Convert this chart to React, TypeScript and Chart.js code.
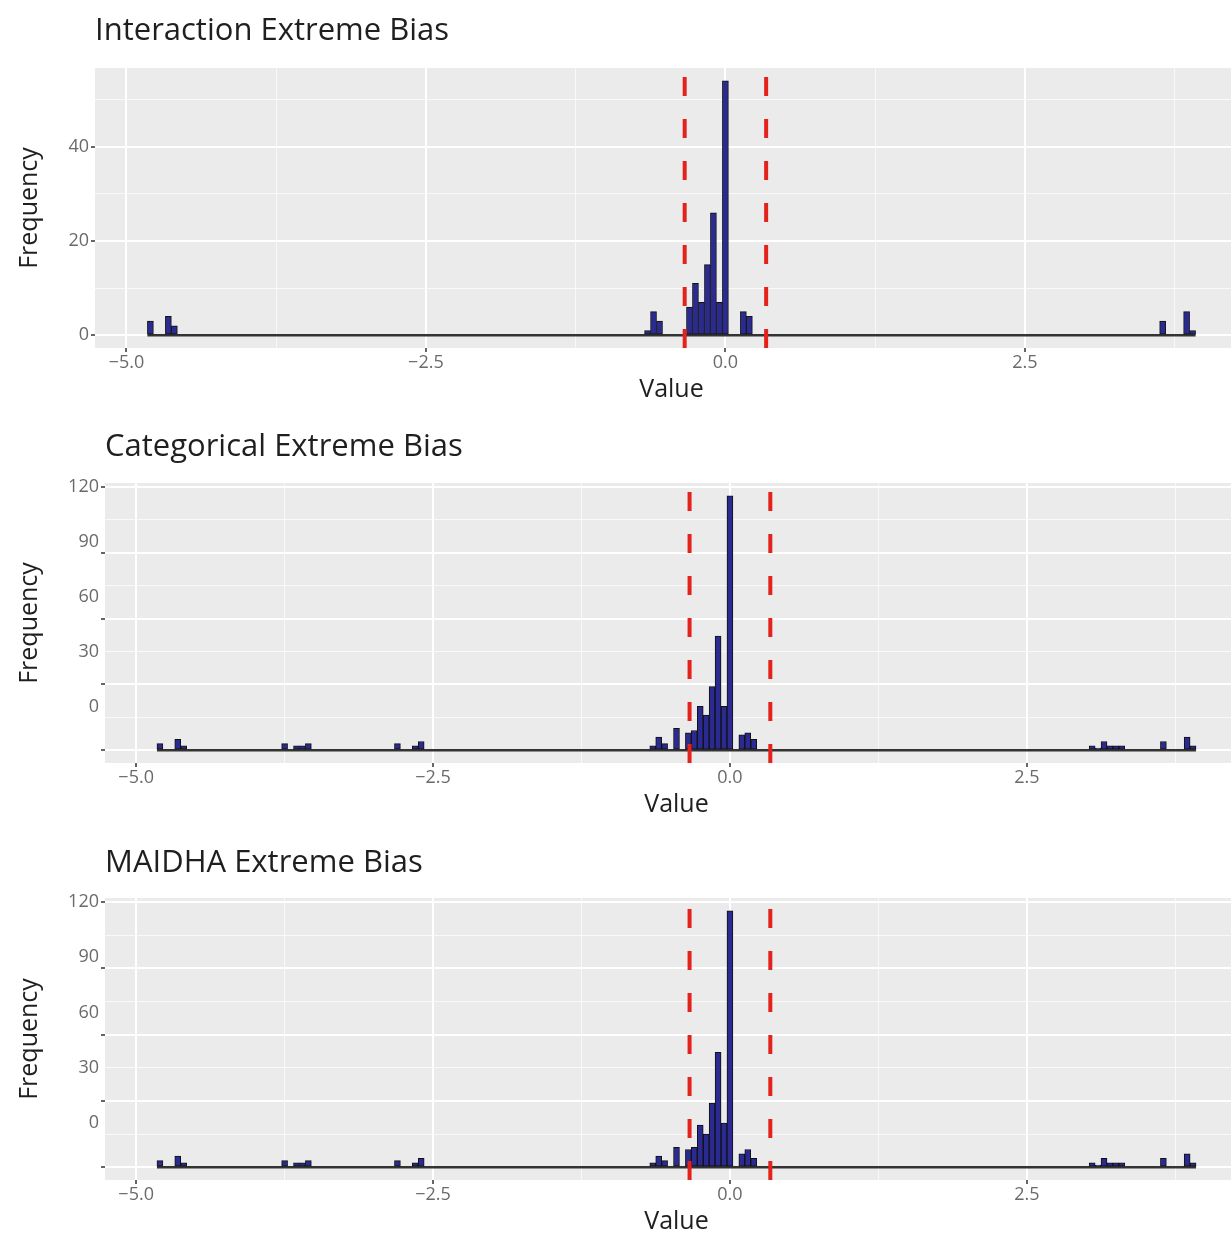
import React, { useEffect, useRef } from "react";
import { Chart, registerables } from "chart.js";

Chart.register(...registerables);
Chart.defaults.font.family = '"Open Sans", "DejaVu Sans", sans-serif';

// ---------------- data ----------------
const BIN_WIDTH = 0.05;
const THRESHOLD = 0.34;

const interactionBins = [-4.8, -4.65, -4.6, -0.65, -0.6, -0.55, -0.3, -0.25, -0.2, -0.15, -0.1, -0.05, 0, 0.15, 0.2, 3.65, 3.85, 3.9];
const interactionCounts = [3, 4, 2, 1, 5, 3, 6, 11, 7, 15, 26, 7, 54, 5, 4, 3, 5, 1];

const categoricalBins = [-4.8, -4.65, -4.6, -3.75, -3.65, -3.6, -3.55, -2.8, -2.65, -2.6, -0.65, -0.6, -0.55, -0.45, -0.35, -0.3, -0.25, -0.2, -0.15, -0.1, -0.05, 0, 0.1, 0.15, 0.2, 3.05, 3.1, 3.15, 3.2, 3.25, 3.3, 3.65, 3.85, 3.9];
const categoricalCounts = [3, 5, 2, 3, 2, 2, 3, 3, 2, 4, 2, 6, 3, 10, 8, 9, 20, 16, 29, 52, 20, 116, 7, 8, 5, 2, 1, 4, 2, 2, 2, 4, 6, 2];

const maidhaBins = [-4.8, -4.65, -4.6, -3.75, -3.65, -3.6, -3.55, -2.8, -2.65, -2.6, -0.65, -0.6, -0.55, -0.45, -0.35, -0.3, -0.25, -0.2, -0.15, -0.1, -0.05, 0, 0.1, 0.15, 0.2, 3.05, 3.1, 3.15, 3.2, 3.25, 3.3, 3.65, 3.85, 3.9];
const maidhaCounts = [3, 5, 2, 3, 2, 2, 3, 3, 2, 4, 2, 5, 3, 9, 8, 9, 19, 15, 29, 52, 20, 116, 6, 8, 4, 2, 1, 4, 2, 2, 2, 4, 6, 2];

const xMajorTicks = [-5, -2.5, 0, 2.5];
const xTickLabels = ["\u22125.0", "\u22122.5", "0.0", "2.5"];
const xMinorTicks = [-3.75, -1.25, 1.25, 3.75];

const interactionYMajor = [0, 20, 40];
const interactionYMinor = [10, 30, 50];
const interactionYLabelAt = [0, 20, 40];
const interactionYLabels = ["0", "20", "40"];

const countYMajor = [0, 30, 60, 90, 120];
const countYMinor = [15, 45, 75, 105];
const countYLabelAt = [120, 95, 70, 45, 20];
const countYLabels = ["120", "90", "60", "30", "0"];

// ---------------- layout ----------------
const CANVAS_W = 1248;
const CANVAS_H = 416;
const X_AXIS_H = 30;
const Y_TICK_W = 5;

type Spec = {
  title: string;
  bins: number[];
  counts: number[];
  yMajor: number[];
  yMinor: number[];
  yLabelAt: number[];
  yLabels: string[];
  top: number;
  plotLeft: number;
  plotTop: number;
  plotBottom: number;
};

const panels: Spec[] = [
  {
    title: "Interaction Extreme Bias",
    bins: interactionBins,
    counts: interactionCounts,
    yMajor: interactionYMajor,
    yMinor: interactionYMinor,
    yLabelAt: interactionYLabelAt,
    yLabels: interactionYLabels,
    top: 0,
    plotLeft: 95,
    plotTop: 68,
    plotBottom: 348,
  },
  {
    title: "Categorical Extreme Bias",
    bins: categoricalBins,
    counts: categoricalCounts,
    yMajor: countYMajor,
    yMinor: countYMinor,
    yLabelAt: countYLabelAt,
    yLabels: countYLabels,
    top: 416,
    plotLeft: 105,
    plotTop: 67,
    plotBottom: 347,
  },
  {
    title: "MAIDHA Extreme Bias",
    bins: maidhaBins,
    counts: maidhaCounts,
    yMajor: countYMajor,
    yMinor: countYMinor,
    yLabelAt: countYLabelAt,
    yLabels: countYLabels,
    top: 832,
    plotLeft: 105,
    plotTop: 66,
    plotBottom: 348,
  },
];

const has = (arr: number[], v: number | undefined) =>
  v !== undefined && arr.some((a) => Math.abs(a - v) < 1e-9);

function Panel({ spec }: { spec: Spec }) {
  const ref = useRef<HTMLCanvasElement | null>(null);

  useEffect(() => {
    const canvas = ref.current;
    if (!canvas) return;

    const maxCount = Math.max(...spec.counts);
    const yMin = -0.05 * maxCount;
    const yMax = 1.05 * maxCount;
    const dataLo = spec.bins[0] - BIN_WIDTH / 2;
    const dataHi = spec.bins[spec.bins.length - 1] + BIN_WIDTH / 2;
    const span = dataHi - dataLo;
    const xMin = dataLo - 0.05 * span;
    const xMax = dataHi + 0.05 * span;

    const xGrid = [...xMajorTicks, ...xMinorTicks].sort((a, b) => a - b);
    const yGrid = [...spec.yMajor, ...spec.yMinor].sort((a, b) => a - b);

    const bgPlugin = {
      id: "panelBg",
      beforeDraw(chart: any) {
        const { ctx, chartArea } = chart;
        ctx.save();
        ctx.fillStyle = "#ebebeb";
        ctx.fillRect(chartArea.left, chartArea.top, chartArea.right - chartArea.left, chartArea.bottom - chartArea.top);
        ctx.restore();
      },
    };

    const textPlugin = {
      id: "panelText",
      afterDraw(chart: any) {
        const { ctx, chartArea } = chart;
        ctx.save();
        ctx.fillStyle = "#1f1f1f";
        ctx.font = '31px "Open Sans", sans-serif';
        ctx.textAlign = "left";
        ctx.textBaseline = "alphabetic";
        ctx.fillText(spec.title, chartArea.left, 40);

        ctx.font = '25px "Open Sans", sans-serif';
        ctx.textAlign = "center";
        ctx.textBaseline = "middle";
        ctx.fillText("Value", (chartArea.left + chartArea.right) / 2, chartArea.bottom + 42);

        ctx.translate(30, (chartArea.top + chartArea.bottom) / 2);
        ctx.rotate(-Math.PI / 2);
        ctx.fillText("Frequency", 0, 0);
        ctx.restore();
      },
    };

    const vline = (x: number) => ({
      type: "line" as const,
      data: [
        { x, y: yMin },
        { x, y: yMax },
      ],
      xAxisID: "x",
      yAxisID: "y",
      borderColor: "#e3221c",
      borderWidth: 4,
      borderDash: [19, 23],
      borderCapStyle: "butt",
      pointRadius: 0,
      fill: false,
      order: 0,
    });

    const chart = new Chart(canvas, {
      type: "bar",
      data: {
        datasets: [
          vline(-THRESHOLD),
          vline(THRESHOLD),
          {
            type: "bar",
            data: spec.bins.map((b, i) => ({ x: b, y: spec.counts[i] })),
            xAxisID: "x",
            yAxisID: "y",
            backgroundColor: "#2a2a90",
            borderColor: "#111111",
            borderWidth: 1,
            borderSkipped: false,
            barPercentage: 1,
            categoryPercentage: 1,
            order: 1,
          },
          {
            type: "line",
            data: [
              { x: dataLo, y: 0 },
              { x: dataHi, y: 0 },
            ],
            xAxisID: "x",
            yAxisID: "y",
            borderColor: "#333333",
            borderWidth: 2.5,
            pointRadius: 0,
            fill: false,
            order: 2,
          },
        ] as any,
      },
      options: {
        animation: false,
        responsive: false,
        maintainAspectRatio: false,
        events: [],
        layout: {
          padding: {
            top: spec.plotTop,
            right: 0,
            left: 0,
            bottom: CANVAS_H - spec.plotBottom - X_AXIS_H,
          },
        },
        plugins: {
          legend: { display: false },
          tooltip: { enabled: false },
          title: { display: false },
        },
        scales: {
          x: {
            type: "linear",
            min: xMin,
            max: xMax,
            offset: false,
            border: { display: false },
            grid: {
              offset: false,
              drawTicks: true,
              tickLength: 4,
              color: (c: any) => (has(xMajorTicks, c.tick?.value) ? "#ffffff" : "rgba(255,255,255,0.7)"),
              lineWidth: (c: any) => (has(xMajorTicks, c.tick?.value) ? 2 : 1),
              tickColor: (c: any) => (has(xMajorTicks, c.tick?.value) ? "#333333" : "rgba(0,0,0,0)"),
              tickWidth: 1.5,
            },
            ticks: {
              autoSkip: false,
              maxRotation: 0,
              padding: 0,
              color: "#6a6a6a",
              font: { size: 18 },
              callback: (v: any) => {
                const i = xMajorTicks.findIndex((m) => Math.abs(m - Number(v)) < 1e-9);
                return i >= 0 ? xTickLabels[i] : "";
              },
            },
            afterBuildTicks: (s: any) => {
              s.ticks = xGrid.map((v) => ({ value: v }));
            },
            afterFit: (s: any) => {
              s.height = X_AXIS_H;
            },
          },
          y: {
            type: "linear",
            position: "left",
            weight: 0,
            min: yMin,
            max: yMax,
            border: { display: false },
            grid: {
              drawTicks: true,
              tickLength: 4,
              color: (c: any) => (has(spec.yMajor, c.tick?.value) ? "#ffffff" : "rgba(255,255,255,0.7)"),
              lineWidth: (c: any) => (has(spec.yMajor, c.tick?.value) ? 2 : 1),
              tickColor: (c: any) => (has(spec.yMajor, c.tick?.value) ? "#333333" : "rgba(0,0,0,0)"),
              tickWidth: 1.5,
            },
            ticks: { display: false },
            afterBuildTicks: (s: any) => {
              s.ticks = yGrid.map((v) => ({ value: v }));
            },
            afterFit: (s: any) => {
              s.width = Y_TICK_W;
            },
          },
          yl: {
            type: "linear",
            position: "left",
            weight: 1,
            min: yMin,
            max: yMax,
            border: { display: false },
            grid: { display: false, drawTicks: false, tickLength: 0 },
            ticks: {
              padding: 1,
              color: "#6a6a6a",
              font: { size: 18 },
              callback: (v: any) => {
                const i = spec.yLabelAt.findIndex((m) => Math.abs(m - Number(v)) < 1e-9);
                return i >= 0 ? spec.yLabels[i] : "";
              },
            },
            afterBuildTicks: (s: any) => {
              s.ticks = spec.yLabelAt.map((v) => ({ value: v }));
            },
            afterFit: (s: any) => {
              s.width = spec.plotLeft - Y_TICK_W;
            },
          },
        },
      } as any,
      plugins: [bgPlugin, textPlugin],
    });

    return () => chart.destroy();
  }, [spec]);

  return (
    <canvas
      ref={ref}
      width={CANVAS_W}
      height={CANVAS_H}
      style={{
        position: "absolute",
        left: 0,
        top: spec.top,
        width: CANVAS_W,
        height: CANVAS_H,
        display: "block",
      }}
    />
  );
}

export default function App() {
  return (
    <div
      style={{
        position: "fixed",
        left: 0,
        top: 0,
        width: 1231,
        height: 1241,
        overflow: "hidden",
        background: "#ffffff",
      }}
    >
      {panels.map((p) => (
        <Panel key={p.title} spec={p} />
      ))}
    </div>
  );
}
